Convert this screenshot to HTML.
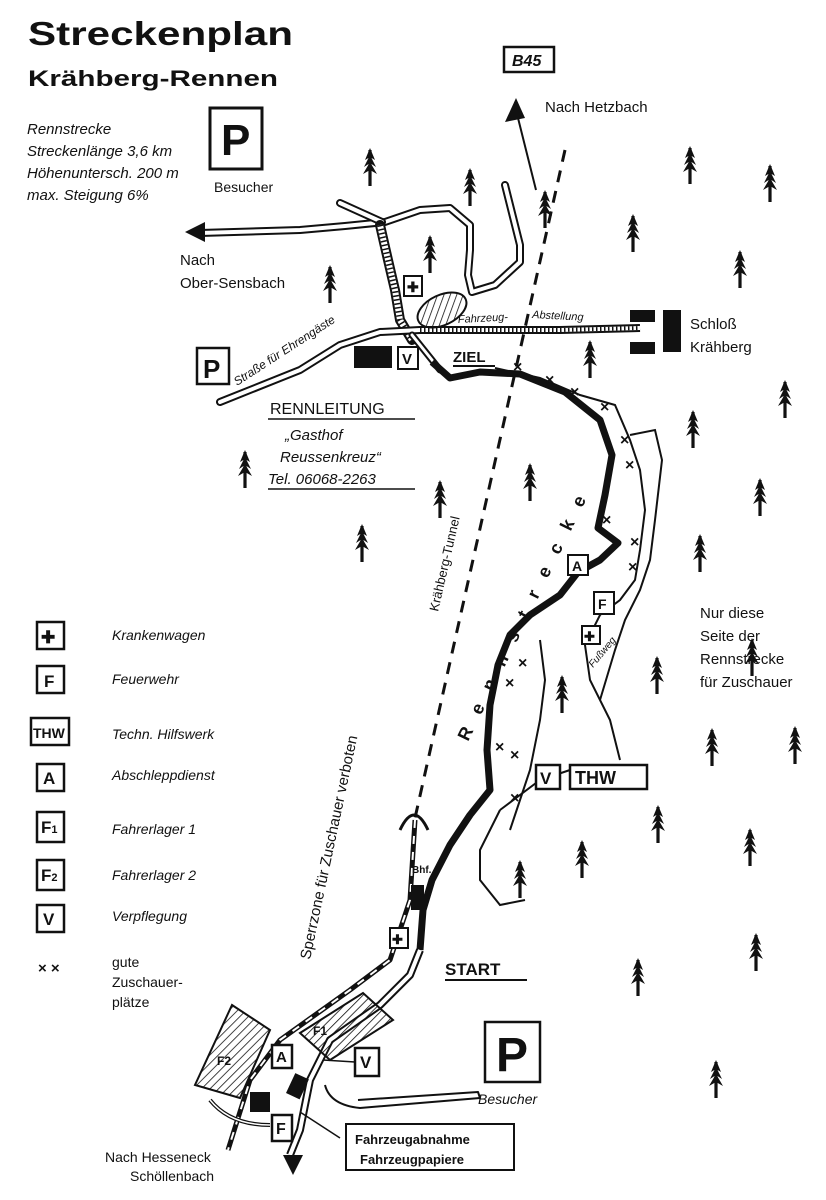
<!DOCTYPE html>
<html><head><meta charset="utf-8"><style>
html,body{margin:0;padding:0;background:#fff}
svg{display:block}
text{font-family:"Liberation Sans",sans-serif;fill:#111}
.it{font-style:italic}
</style></head><body>
<svg width="826" height="1200" viewBox="0 0 826 1200" xmlns="http://www.w3.org/2000/svg">
<defs>
<pattern id="h" width="6" height="6" patternUnits="userSpaceOnUse" patternTransform="rotate(45)"><line x1="0" y1="0" x2="0" y2="6" stroke="#111" stroke-width="1.6"/></pattern>
<g id="t"><path d="M0 -22 L-5 -10 L0 -13 L5 -10 Z M0 -15 L-6 -3 L0 -7 L6 -3 Z M0 -8 L-7 4 L0 0 L7 4 Z" fill="#111"/><rect x="-1.6" y="-20" width="3.2" height="36" fill="#111"/></g>
</defs>

<!-- Titles -->
<text x="28" y="45" font-size="33" font-weight="bold" textLength="265" lengthAdjust="spacingAndGlyphs">Streckenplan</text>
<text x="28" y="86" font-size="22" font-weight="bold" textLength="250" lengthAdjust="spacingAndGlyphs">Krähberg-Rennen</text>
<g font-size="15" class="it"><text x="27" y="134">Rennstrecke</text><text x="27" y="156">Streckenlänge 3,6 km</text><text x="27" y="178">Höhenuntersch. 200 m</text><text x="27" y="200">max. Steigung 6%</text></g>

<!-- P top -->
<rect x="210" y="108" width="52" height="61" fill="none" stroke="#111" stroke-width="3"/>
<text x="221" y="155" font-size="44" font-weight="bold">P</text>
<text x="214" y="192" font-size="14">Besucher</text>

<!-- B45 -->
<rect x="504" y="47" width="50" height="25" fill="none" stroke="#111" stroke-width="2.5"/>
<text x="512" y="66" font-size="16" font-weight="bold" class="it">B45</text>
<line x1="516" y1="110" x2="536" y2="190" stroke="#111" stroke-width="2"/>
<path d="M516 98 L505 122 L525 118 Z" fill="#111"/>
<text x="545" y="112" font-size="15">Nach Hetzbach</text>

<!-- roads top (double) -->
<g fill="none" stroke-linecap="round" stroke-linejoin="round">
<path d="M200 233 L300 230 L345 226 L385 222 L420 210 L450 208 L470 225 L470 250 L468 275 L472 292 L495 285 L520 262 L520 245 L505 185" stroke="#111" stroke-width="8"/>
<path d="M200 233 L300 230 L345 226 L385 222 L420 210 L450 208 L470 225 L470 250 L468 275 L472 292 L495 285 L520 262 L520 245 L505 185" stroke="#fff" stroke-width="4"/>
<path d="M340 203 L382 222" stroke="#111" stroke-width="8"/><path d="M340 203 L382 222" stroke="#fff" stroke-width="4"/>
<path d="M380 225 L388 260 L395 290 L400 320 L412 340" stroke="#111" stroke-width="10"/>
<path d="M380 225 L388 260 L395 290 L400 320 L412 340" stroke="#fff" stroke-width="6" stroke-linecap="butt"/>
<path d="M380 225 L388 260 L395 290 L400 320 L412 340" stroke="#111" stroke-width="6" stroke-dasharray="1.5 2.5" stroke-linecap="butt"/>
<!-- Strasse für Ehrengäste -->
<path d="M220 402 L300 370 L340 345 L380 332 L420 330" stroke="#111" stroke-width="8"/>
<path d="M220 402 L300 370 L340 345 L380 332 L420 330" stroke="#fff" stroke-width="4"/>
<path d="M420 330 L560 330 L640 328" stroke="#111" stroke-width="8" stroke-linecap="butt"/>
<path d="M420 330 L560 330 L640 328" stroke="#fff" stroke-width="4" stroke-linecap="butt"/>
<path d="M420 330 L560 330 L640 328" stroke="#111" stroke-width="4" stroke-dasharray="1.5 2.5" stroke-linecap="butt"/>
<path d="M412 335 L440 370" stroke="#111" stroke-width="7"/>
<path d="M412 335 L440 370" stroke="#fff" stroke-width="3"/>
</g>
<path d="M185 232 L205 222 L205 242 Z" fill="#111"/>
<ellipse cx="442" cy="310" rx="26" ry="15" transform="rotate(-25 442 310)" fill="url(#h)" stroke="#111" stroke-width="2"/>
<text x="180" y="265" font-size="15">Nach</text><text x="180" y="288" font-size="15">Ober-Sensbach</text>
<rect x="404" y="276" width="18" height="20" fill="#fff" stroke="#111" stroke-width="2"/><text x="407" y="292" font-size="14" font-weight="bold">✚</text>
<text x="0" y="0" font-size="12" class="it" transform="translate(237 386) rotate(-33)">Straße für Ehrengäste</text>
<text x="458" y="323" font-size="11" class="it" transform="rotate(-3 458 323)">Fahrzeug-</text>
<text x="532" y="318" font-size="11" class="it" transform="rotate(3 532 318)">Abstellung</text>
<rect x="630" y="310" width="25" height="12" fill="#111"/><rect x="630" y="342" width="25" height="12" fill="#111"/><rect x="663" y="310" width="18" height="42" fill="#111"/>
<text x="690" y="329" font-size="15">Schloß</text><text x="690" y="352" font-size="15">Krähberg</text>

<rect x="197" y="348" width="32" height="36" fill="none" stroke="#111" stroke-width="2.5"/><text x="203" y="378" font-size="26" font-weight="bold">P</text>
<rect x="354" y="346" width="38" height="22" fill="#111"/>
<rect x="398" y="347" width="20" height="22" fill="none" stroke="#111" stroke-width="2"/><text x="402" y="364" font-size="15" font-weight="bold">V</text>
<text x="453" y="362" font-size="15" font-weight="bold">ZIEL</text><line x1="453" y1="366" x2="495" y2="366" stroke="#111" stroke-width="2"/>
<text x="270" y="414" font-size="16">RENNLEITUNG</text><line x1="268" y1="419" x2="415" y2="419" stroke="#111" stroke-width="1.5"/>
<g font-size="15" class="it"><text x="285" y="440">„Gasthof</text><text x="280" y="462">Reussenkreuz“</text><text x="268" y="484">Tel. 06068-2263</text></g>
<line x1="268" y1="489" x2="415" y2="489" stroke="#111" stroke-width="1.5"/>

<!-- tunnel -->
<line x1="565" y1="150" x2="415" y2="818" stroke="#111" stroke-width="3" stroke-dasharray="12 9"/>
<text x="0" y="0" font-size="13" transform="translate(438 612) rotate(-77)">Krähberg-Tunnel</text>

<!-- spectator path -->
<path d="M495 368 L540 378 L580 395 L615 405 L630 440 L640 470 L645 510 L640 550 L635 580 L620 600 L600 615 L585 645 L590 680 L610 720 L620 760" fill="none" stroke="#111" stroke-width="2"/>
<path d="M630 435 L655 430 L662 460 L655 520 L650 560 L640 590 L625 620 L615 650 L600 700" fill="none" stroke="#111" stroke-width="2"/>
<path d="M540 640 L545 680 L540 720 L530 770 L520 800 L510 830" fill="none" stroke="#111" stroke-width="2"/>
<path d="M500 810 L480 850 L480 880 L500 905 L525 900" fill="none" stroke="#111" stroke-width="2"/>
<path d="M500 810 L540 780 L570 770" fill="none" stroke="#111" stroke-width="2"/>

<!-- race track -->
<path d="M432 362 L450 378 L480 372 L520 374 L565 392 L600 420 L612 455 L605 495 L598 528 L618 543 L600 560 L578 572 L560 595 L530 615 L510 635 L498 665 L490 705 L487 750 L490 790 L470 815 L450 845 L432 880 L423 910 L420 950" fill="none" stroke="#111" stroke-width="7" stroke-linejoin="round"/>
<text transform="translate(468 742) rotate(-64)" font-size="18" font-weight="bold" textLength="270" lengthAdjust="spacing">Rennstrecke</text>
<g font-size="16" font-weight="bold" fill="#111">
<text x="513" y="372">×</text><text x="545" y="385">×</text><text x="570" y="397">×</text><text x="600" y="412">×</text><text x="620" y="445">×</text><text x="625" y="470">×</text><text x="602" y="525">×</text><text x="630" y="547">×</text><text x="628" y="572">×</text>
<text x="505" y="688">×</text><text x="518" y="668">×</text><text x="495" y="752">×</text><text x="510" y="760">×</text><text x="510" y="803">×</text>
</g>
<rect x="568" y="555" width="20" height="20" fill="#fff" stroke="#111" stroke-width="2"/><text x="572" y="571" font-size="14" font-weight="bold">A</text>
<rect x="594" y="592" width="20" height="22" fill="#fff" stroke="#111" stroke-width="2"/><text x="598" y="609" font-size="14" font-weight="bold">F</text>
<rect x="582" y="626" width="18" height="18" fill="#fff" stroke="#111" stroke-width="2"/><text x="584" y="641" font-size="13" font-weight="bold">✚</text>
<text x="0" y="0" font-size="10" class="it" transform="translate(593 668) rotate(-50)">Fußweg</text>
<rect x="536" y="765" width="24" height="24" fill="#fff" stroke="#111" stroke-width="2.5"/><text x="540" y="784" font-size="17" font-weight="bold">V</text>
<rect x="570" y="765" width="77" height="24" fill="#fff" stroke="#111" stroke-width="2.5"/><text x="575" y="784" font-size="18" font-weight="bold">THW</text>
<g font-size="15"><text x="700" y="618">Nur diese</text><text x="700" y="641">Seite der</text><text x="700" y="664">Rennstrecke</text><text x="700" y="687">für Zuschauer</text></g>

<!-- bottom roads & rail -->
<g fill="none" stroke-linejoin="round">
<path d="M420 950 L410 975 L380 1005 L330 1040 L310 1080 L300 1130 L290 1155" stroke="#111" stroke-width="8"/>
<path d="M420 950 L410 975 L380 1005 L330 1040 L310 1080 L300 1130 L290 1155" stroke="#fff" stroke-width="4"/>
<path d="M415 820 L410 900 L390 960 L350 990 L280 1040 L250 1080 L228 1150" stroke="#111" stroke-width="5"/>
<path d="M415 820 L410 900 L390 960 L350 990 L280 1040 L250 1080 L228 1150" stroke="#fff" stroke-width="2" stroke-dasharray="8 8"/>
<path d="M400 830 Q414 800 428 830" stroke="#111" stroke-width="3"/>
<path d="M325 1085 Q330 1105 360 1108 L480 1098 L478 1092 L358 1100" stroke="#111" stroke-width="2"/>
<path d="M210 1100 Q230 1125 270 1125" stroke="#111" stroke-width="4"/>
<path d="M210 1100 Q230 1125 270 1125" stroke="#fff" stroke-width="1.5"/>
</g>
<path d="M283 1155 L303 1155 L293 1175 Z" fill="#111"/>
<text x="0" y="0" font-size="15" transform="translate(310 960) rotate(-78)">Sperrzone für Zuschauer verboten</text>
<text x="412" y="873" font-size="10" font-weight="bold">Bhf.</text>
<rect x="411" y="885" width="13" height="25" fill="#111"/>
<rect x="390" y="928" width="18" height="20" fill="#fff" stroke="#111" stroke-width="2"/><text x="392" y="944" font-size="13" font-weight="bold">✚</text>
<text x="445" y="975" font-size="17" font-weight="bold">START</text><line x1="445" y1="980" x2="527" y2="980" stroke="#111" stroke-width="2"/>
<polygon points="300,1033 363,993 393,1020 330,1060" fill="url(#h)" stroke="#111" stroke-width="2"/><text x="313" y="1035" font-size="12" font-weight="bold">F1</text>
<polygon points="232,1005 270,1030 240,1098 195,1085" fill="url(#h)" stroke="#111" stroke-width="2"/><text x="217" y="1065" font-size="12" font-weight="bold">F2</text>
<rect x="272" y="1045" width="20" height="23" fill="#fff" stroke="#111" stroke-width="2.5"/><text x="276" y="1062" font-size="15" font-weight="bold">A</text>
<rect x="355" y="1048" width="24" height="28" fill="none" stroke="#111" stroke-width="2.5"/><text x="360" y="1068" font-size="17" font-weight="bold">V</text>
<line x1="323" y1="1060" x2="355" y2="1062" stroke="#111" stroke-width="1.5"/>
<rect x="290" y="1075" width="15" height="22" fill="#111" transform="rotate(25 297 1086)"/>
<rect x="250" y="1092" width="20" height="20" fill="#111"/>
<rect x="272" y="1115" width="20" height="26" fill="#fff" stroke="#111" stroke-width="2.5"/><text x="276" y="1134" font-size="16" font-weight="bold">F</text>
<line x1="300" y1="1112" x2="340" y2="1138" stroke="#111" stroke-width="1.5"/>
<rect x="346" y="1124" width="168" height="46" fill="none" stroke="#111" stroke-width="2"/>
<text x="355" y="1144" font-size="13" font-weight="bold">Fahrzeugabnahme</text><text x="360" y="1164" font-size="13" font-weight="bold">Fahrzeugpapiere</text>
<rect x="485" y="1022" width="55" height="60" fill="none" stroke="#111" stroke-width="2.5"/><text x="496" y="1071" font-size="48" font-weight="bold">P</text>
<text x="478" y="1104" font-size="14" class="it">Besucher</text>
<text x="105" y="1162" font-size="14">Nach Hesseneck</text><text x="130" y="1181" font-size="14">Schöllenbach</text>

<!-- legend -->
<g stroke="#111" stroke-width="2.5" fill="none">
<rect x="37" y="622" width="27" height="27"/><rect x="37" y="666" width="27" height="27"/><rect x="31" y="718" width="38" height="27"/><rect x="37" y="764" width="27" height="27"/><rect x="37" y="812" width="27" height="30"/><rect x="37" y="860" width="27" height="30"/><rect x="37" y="905" width="27" height="27"/>
</g>
<g font-weight="bold" font-size="17">
<text x="41" y="643">✚</text><text x="44" y="687">F</text><text x="33" y="738" font-size="14">THW</text><text x="43" y="784">A</text><text x="41" y="833">F<tspan font-size="11">1</tspan></text><text x="41" y="881">F<tspan font-size="11">2</tspan></text><text x="43" y="925">V</text>
<text x="38" y="973" font-size="15">× ×</text>
</g>
<g font-size="14" class="it"><text x="112" y="640">Krankenwagen</text><text x="112" y="684">Feuerwehr</text><text x="112" y="739">Techn. Hilfswerk</text><text x="112" y="780">Abschleppdienst</text><text x="112" y="834">Fahrerlager 1</text><text x="112" y="880">Fahrerlager 2</text><text x="112" y="921">Verpflegung</text></g>
<g font-size="14"><text x="112" y="967">gute</text><text x="112" y="987">Zuschauer-</text><text x="112" y="1007">plätze</text></g>

<!-- trees -->
<g>
<use href="#t" x="370" y="170"/><use href="#t" x="470" y="190"/><use href="#t" x="545" y="212"/><use href="#t" x="690" y="168"/><use href="#t" x="770" y="186"/><use href="#t" x="633" y="236"/><use href="#t" x="740" y="272"/><use href="#t" x="430" y="257"/><use href="#t" x="330" y="287"/><use href="#t" x="590" y="362"/><use href="#t" x="693" y="432"/><use href="#t" x="785" y="402"/><use href="#t" x="245" y="472"/><use href="#t" x="440" y="502"/><use href="#t" x="530" y="485"/><use href="#t" x="362" y="546"/><use href="#t" x="700" y="556"/><use href="#t" x="760" y="500"/><use href="#t" x="562" y="697"/><use href="#t" x="657" y="678"/><use href="#t" x="752" y="660"/><use href="#t" x="712" y="750"/><use href="#t" x="795" y="748"/><use href="#t" x="658" y="827"/><use href="#t" x="750" y="850"/><use href="#t" x="582" y="862"/><use href="#t" x="520" y="882"/><use href="#t" x="638" y="980"/><use href="#t" x="756" y="955"/><use href="#t" x="716" y="1082"/>
</g>
</svg>
</body></html>
